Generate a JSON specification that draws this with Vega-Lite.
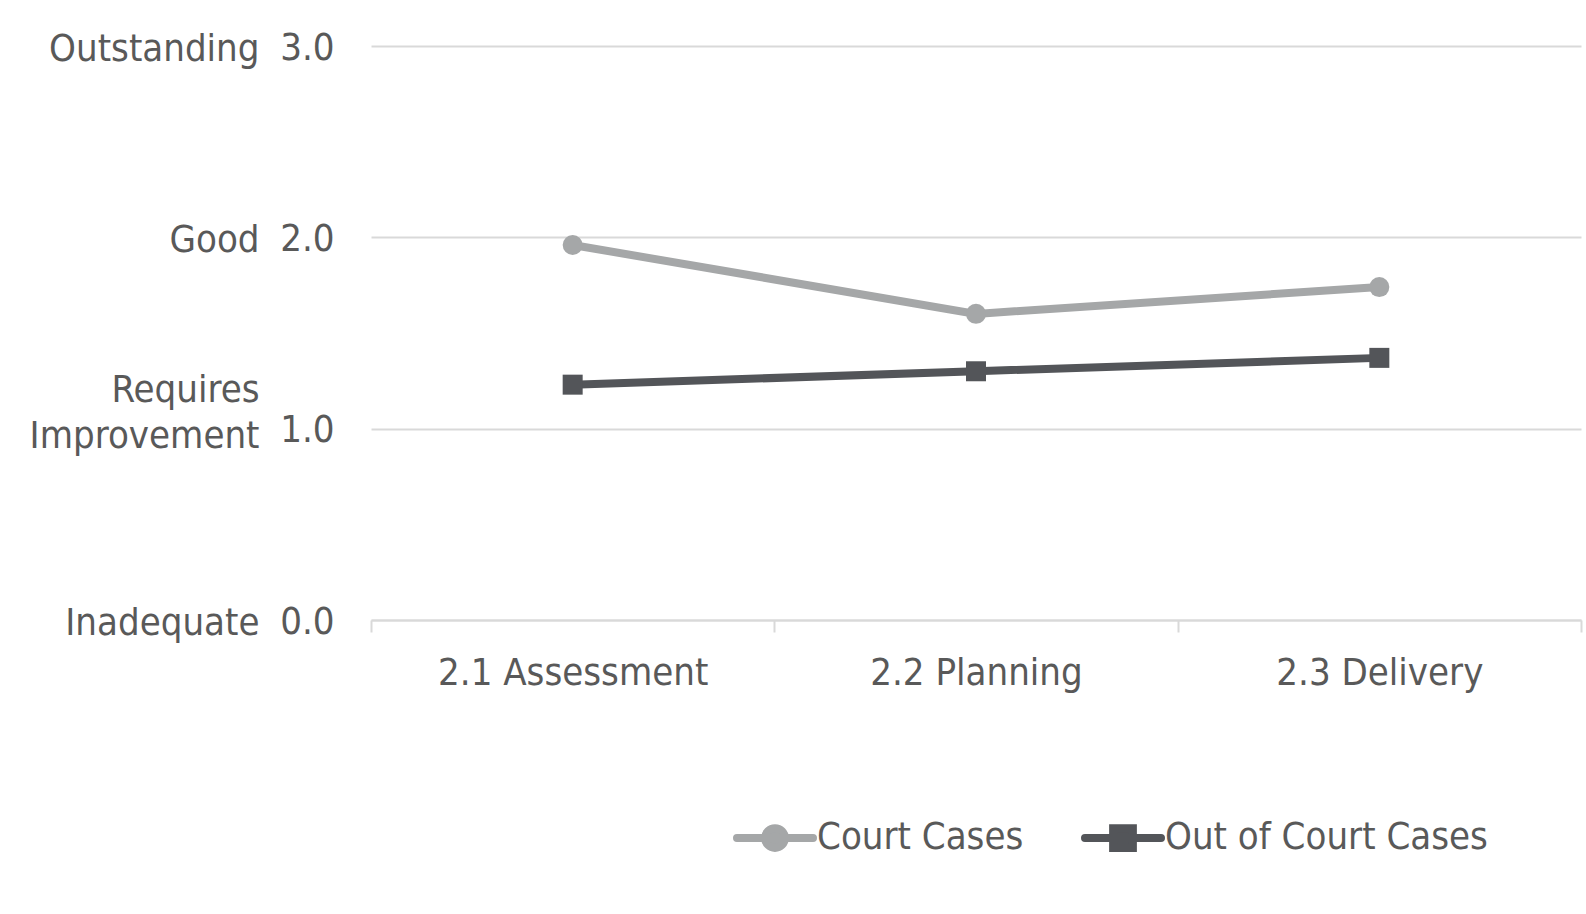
{
  "$schema": "https://vega.github.io/schema/vega-lite/v6.json",
  "width": 1210,
  "height": 574,
  "autosize": {"type": "none"},
  "padding": {"left": 371, "top": 46, "right": 5, "bottom": 294},
  "background": "white",
  "config": {
    "view": {"stroke": null},
    "font": "DejaVu Sans Condensed",
    "axis": {"labelFont": "DejaVu Sans Condensed", "labelColor": "#595959", "labelFontSize": 38, "labelLimit": 0}
  },
  "data": {
    "values": [
      {"category": "2.1 Assessment", "series": "Court Cases", "score": 1.96},
      {"category": "2.2 Planning", "series": "Court Cases", "score": 1.6},
      {"category": "2.3 Delivery", "series": "Court Cases", "score": 1.74},
      {"category": "2.1 Assessment", "series": "Out of Court Cases", "score": 1.23},
      {"category": "2.2 Planning", "series": "Out of Court Cases", "score": 1.3},
      {"category": "2.3 Delivery", "series": "Out of Court Cases", "score": 1.37}
    ]
  },
  "encoding": {
    "x": {
      "field": "category", "type": "nominal", "sort": null,
      "scale": {"paddingInner": 0, "paddingOuter": 0},
      "axis": {
        "title": null, "labelAngle": 0, "tickBand": "extent", "tickSize": 12,
        "tickColor": "#D9D9D9", "tickWidth": 2, "domainColor": "#D9D9D9", "domainWidth": 2,
        "labelPadding": 22, "grid": false
      }
    },
    "color": {
      "field": "series", "type": "nominal",
      "scale": {"domain": ["Court Cases", "Out of Court Cases"], "range": ["#A5A7A8", "#535559"]},
      "legend": {
        "orient": "none", "legendX": 362, "legendY": 750, "direction": "horizontal", "title": null,
        "labelFontSize": 38, "labelColor": "#595959", "labelFont": "DejaVu Sans Condensed", "labelLimit": 0,
        "symbolSize": 5776, "columnPadding": 45, "labelOffset": 0, "symbolStrokeWidth": 8,
        "encode": {
          "symbols": {
            "update": {
              "shape": {"signal": "datum.value === 'Court Cases' ? 'M-1,0L1,0M0.26,0A0.26,0.26,0,1,1,-0.26,0A0.26,0.26,0,1,1,0.26,0Z' : 'M-1,0L1,0M-0.26,-0.26L0.26,-0.26L0.26,0.26L-0.26,0.26Z'"},
              "fill": {"scale": "color", "field": "value"},
              "stroke": {"scale": "color", "field": "value"},
              "strokeWidth": {"value": 8},
              "strokeCap": {"value": "round"},
              "opacity": {"value": 1}
            }
          }
        }
      }
    }
  },
  "layer": [
    {
      "mark": {"type": "line", "strokeWidth": 8},
      "encoding": {
        "y": {
          "field": "score", "type": "quantitative", "scale": {"domain": [0, 3]},
          "axis": {
            "title": null, "values": [0, 1, 2, 3], "format": ".1f", "labelPadding": 37, "labelOffset": 2,
            "ticks": false, "domain": false, "grid": true, "gridColor": "#D9D9D9", "gridWidth": 2
          }
        }
      }
    },
    {
      "transform": [{"filter": "datum.series === 'Court Cases'"}],
      "mark": {"type": "point", "shape": "circle", "filled": true, "opacity": 1, "size": 400},
      "encoding": {
        "y": {
          "field": "score", "type": "quantitative", "scale": {"domain": [0, 3]},
          "axis": {
            "title": null, "orient": "left", "values": [0, 1, 2, 3], "labelPadding": 112,
            "labelExpr": "datum.value == 3 ? 'Outstanding' : datum.value == 2 ? 'Good' : datum.value == 1 ? ['Requires', 'Improvement'] : 'Inadequate'",
            "labelLineHeight": 46,
            "labelOffset": {"condition": {"test": "datum.value == 1", "value": -38}, "value": 3},
            "ticks": false, "domain": false, "grid": false
          }
        }
      }
    },
    {
      "transform": [{"filter": "datum.series === 'Out of Court Cases'"}],
      "mark": {"type": "point", "shape": "square", "filled": true, "opacity": 1, "size": 400},
      "encoding": {
        "y": {"field": "score", "type": "quantitative", "scale": {"domain": [0, 3]}, "axis": null}
      }
    }
  ],
  "resolve": {"axis": {"y": "independent"}}
}
